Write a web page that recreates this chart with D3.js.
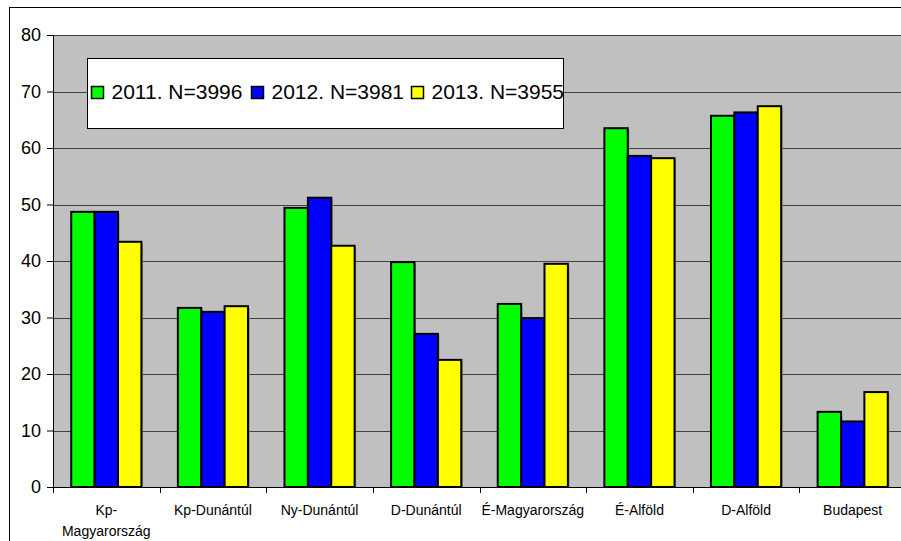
<!DOCTYPE html>
<meta charset="utf-8">
<script src="https://d3js.org/d3.v7.min.js"></script>
<style>
  body { margin: 0; background: #fff; }
  text { font-family: Arial, "Liberation Sans", sans-serif; }
</style>
<div id="chart"></div>
<script>

// categories and series
var regions = ["Kp-Magyarország", "Kp-Dunántúl", "Ny-Dunántúl", "D-Dunántúl",
               "É-Magyarország", "É-Alföld", "D-Alföld", "Budapest"];
var series = ["2011. N=3996", "2012. N=3981", "2013. N=3955"];
var v2011 = [48.7, 31.7, 49.4, 39.8, 32.4, 63.5, 65.7, 13.3];
var v2012 = [48.7, 31.0, 51.2, 27.1, 29.9, 58.6, 66.3, 11.6];
var v2013 = [43.4, 32.0, 42.7, 22.5, 39.5, 58.2, 67.4, 16.8];
var yTicks = [0, 10, 20, 30, 40, 50, 60, 70, 80];
var colors = ["#00ff00", "#0000ff", "#ffff00"];

var values = [v2011, v2012, v2013];
var data = regions.map(function(r, i) {
  return {region: r, vals: values.map(function(v) { return v[i]; })};
});

var W = 901, H = 541;
var margin = {top: 35, right: -5, bottom: 54, left: 53};
var width = W - margin.left - margin.right,
    height = H - margin.top - margin.bottom;

var svg = d3.select("#chart").append("svg")
    .attr("width", W).attr("height", H);

// outer frame
svg.append("rect")
  .attr("x", 9.5).attr("y", 7.5)
  .attr("width", 900).attr("height", 540)
  .attr("fill", "none").attr("stroke", "#000").attr("stroke-width", 1);

var g = svg.append("g")
  .attr("transform", "translate(" + margin.left + "," + margin.top + ")");

var x = d3.scaleBand().domain(regions).range([0, width]).paddingInner(0).paddingOuter(0);
var x1 = d3.scaleBand().domain(d3.range(series.length))
  .range([0, x.bandwidth()]).paddingOuter(0.78);
var y = d3.scaleLinear().domain([0, 80]).range([height, 0]);

// plot area
g.append("rect")
  .attr("width", width).attr("height", height)
  .attr("fill", "#c0c0c0");

// gridlines
g.selectAll(".grid").data(yTicks.filter(function(t) { return t > 0; }))
  .enter().append("line")
  .attr("x1", 0).attr("x2", width)
  .attr("y1", function(d) { return Math.round(y(d)) + 0.5; })
  .attr("y2", function(d) { return Math.round(y(d)) + 0.5; })
  .attr("stroke", "#404040").attr("stroke-width", 1);

// bars
var grp = g.selectAll(".grp").data(data).enter().append("g")
  .attr("transform", function(d) { return "translate(" + x(d.region) + ",0)"; });

grp.selectAll("rect.shadow").data(function(d) { return d.vals; })
  .enter().append("rect")
  .attr("x", function(d, i) { return x1(i) + 1.5; })
  .attr("y", function(d) { return y(d) + 1.5; })
  .attr("width", x1.bandwidth())
  .attr("height", function(d) { return height - y(d) - 1.5; })
  .attr("fill", "#808080");

grp.selectAll("rect.bar").data(function(d) { return d.vals; })
  .enter().append("rect")
  .attr("x", function(d, i) { return x1(i); })
  .attr("y", function(d) { return y(d); })
  .attr("width", x1.bandwidth())
  .attr("height", function(d) { return height - y(d); })
  .attr("fill", function(d, i) { return colors[i]; })
  .attr("stroke", "#000").attr("stroke-width", 2);

// y axis
var yAxis = g.append("g")
  .call(d3.axisLeft(y).tickValues(yTicks).tickSize(6).tickPadding(6));
yAxis.select(".domain").attr("stroke", "#000");
yAxis.selectAll("text").attr("font-size", 18).attr("fill", "#000")
  .attr("font-family", "Arial, 'Liberation Sans', sans-serif");

// x axis
var xAxis = g.append("g")
  .attr("transform", "translate(0," + height + ")")
  .call(d3.axisBottom(x).tickSize(0).tickFormat(""));
xAxis.select(".domain").attr("stroke", "#000");

g.selectAll(".xtick").data(regions.concat([""]))
  .enter().append("line")
  .attr("x1", function(d, i) { return Math.round(i * x.step()) + 0.5; })
  .attr("x2", function(d, i) { return Math.round(i * x.step()) + 0.5; })
  .attr("y1", height).attr("y2", height + 6)
  .attr("stroke", "#000");

var xl = g.selectAll(".xlab").data(regions).enter().append("text")
  .attr("x", function(d) { return x(d) + x.bandwidth() / 2; })
  .attr("y", height + 28)
  .attr("text-anchor", "middle")
  .attr("font-size", 14).attr("fill", "#000");
xl.each(function(d) {
  var t = d3.select(this);
  if (d === "Kp-Magyarország") {
    t.append("tspan").attr("x", t.attr("x")).attr("dy", 0).text("Kp-");
    t.append("tspan").attr("x", t.attr("x")).attr("dy", 21).text("Magyarország");
  } else {
    t.text(d);
  }
});

// legend
var leg = svg.append("g").attr("transform", "translate(87.5,58.5)");
leg.append("rect").attr("width", 476).attr("height", 70)
  .attr("fill", "#fff").attr("stroke", "#000").attr("stroke-width", 1);
var legX = [4, 164, 324];
series.forEach(function(s, i) {
  leg.append("rect")
    .attr("x", legX[i]).attr("y", 28)
    .attr("width", 12).attr("height", 12)
    .attr("fill", colors[i]).attr("stroke", "#000").attr("stroke-width", 1.5);
  leg.append("text")
    .attr("x", legX[i] + 20).attr("y", 40)
    .attr("font-size", 21).attr("fill", "#000")
    .text(s);
});

</script>
